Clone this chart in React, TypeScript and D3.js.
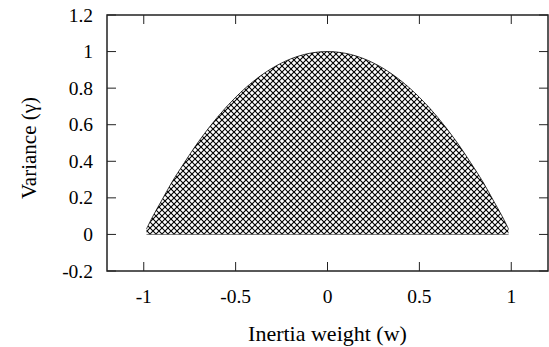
import React from "react";
import * as d3 from "d3";

const wValues = [-0.985, -0.95, -0.9, -0.85, -0.8, -0.7, -0.6, -0.5, -0.4, -0.3, -0.2, -0.1, 0, 0.1, 0.2, 0.3, 0.4, 0.5, 0.6, 0.7, 0.8, 0.85, 0.9, 0.95, 0.985];
const varianceValues = [0.03, 0.1, 0.19, 0.28, 0.36, 0.51, 0.64, 0.75, 0.84, 0.91, 0.96, 0.99, 1.0, 0.99, 0.96, 0.91, 0.84, 0.75, 0.64, 0.51, 0.36, 0.28, 0.19, 0.1, 0.03];
const xTicks = [-1, -0.5, 0, 0.5, 1];
const yTicks = [-0.2, 0, 0.2, 0.4, 0.6, 0.8, 1, 1.2];
const xLabel = "Inertia weight (w)";
const yLabel = "Variance (γ)";

const W = 549;
const H = 347;
const left = 107;
const right = 548;
const top = 15;
const bottom = 271;
const font = "'Liberation Serif', 'Times New Roman', serif";

export default function App() {
  const x = d3.scaleLinear().domain([-1.2, 1.2]).range([left, right]);
  const y = d3.scaleLinear().domain([-0.2, 1.2]).range([bottom, top]);
  const data = wValues.map((w, i) => ({ w, v: varianceValues[i] }));
  const area = d3
    .area<{ w: number; v: number }>()
    .x((d) => x(d.w))
    .y0(() => y(0))
    .y1((d) => y(d.v))
    .curve(d3.curveCatmullRom);
  const line = d3
    .line<{ w: number; v: number }>()
    .x((d) => x(d.w))
    .y((d) => y(d.v))
    .curve(d3.curveCatmullRom);
  const tickLen = 9;
  const fmt = (v: number) => (Math.abs(v) < 1e-9 ? "0" : String(+v.toFixed(1)));
  return (
    <svg
      width={W}
      height={H}
      style={{ position: "absolute", left: 0, top: 0, display: "block", background: "#fff" }}
    >
      <defs>
        <pattern id="hatch" patternUnits="userSpaceOnUse" width={6} height={6}>
          <rect width={6} height={6} fill="#fff" />
          <path d="M0,0 L6,6 M6,0 L0,6" stroke="#000" strokeWidth={1.1} />
        </pattern>
      </defs>
      <path d={area(data) || ""} fill="url(#hatch)" stroke="none" />
      <path d={line(data) || ""} fill="none" stroke="#000" strokeWidth={0.8} />
      <line x1={x(wValues[0])} x2={x(wValues[wValues.length - 1])} y1={y(0)} y2={y(0)} stroke="#555" strokeWidth={0.8} />
      {xTicks.map((t) => (
        <g key={"x" + t}>
          <line x1={x(t)} x2={x(t)} y1={bottom} y2={bottom - tickLen} stroke="#222" strokeWidth={1} />
          <line x1={x(t)} x2={x(t)} y1={top} y2={top + tickLen} stroke="#222" strokeWidth={1} />
          <text x={x(t)} y={303} textAnchor="middle" fontFamily={font} fontSize={19.5} fill="#000">
            {fmt(t)}
          </text>
        </g>
      ))}
      {yTicks.map((t) => (
        <g key={"y" + t}>
          <line x1={left} x2={left + tickLen} y1={y(t)} y2={y(t)} stroke="#222" strokeWidth={1} />
          <line x1={right} x2={right - tickLen} y1={y(t)} y2={y(t)} stroke="#222" strokeWidth={1} />
          <text x={93} y={y(t) + 6.5} textAnchor="end" fontFamily={font} fontSize={19.5} fill="#000">
            {fmt(t)}
          </text>
        </g>
      ))}
      <rect x={left} y={top} width={right - left} height={bottom - top} fill="none" stroke="#222" strokeWidth={1.5} />
      <text x={(left + right) / 2} y={341} textAnchor="middle" fontFamily={font} fontSize={22} fill="#000">
        {xLabel}
      </text>
      <text
        transform={`translate(36, 148) rotate(-90)`}
        textAnchor="middle"
        fontFamily={font}
        fontSize={21}
        fill="#000"
      >
        {yLabel}
      </text>
    </svg>
  );
}
